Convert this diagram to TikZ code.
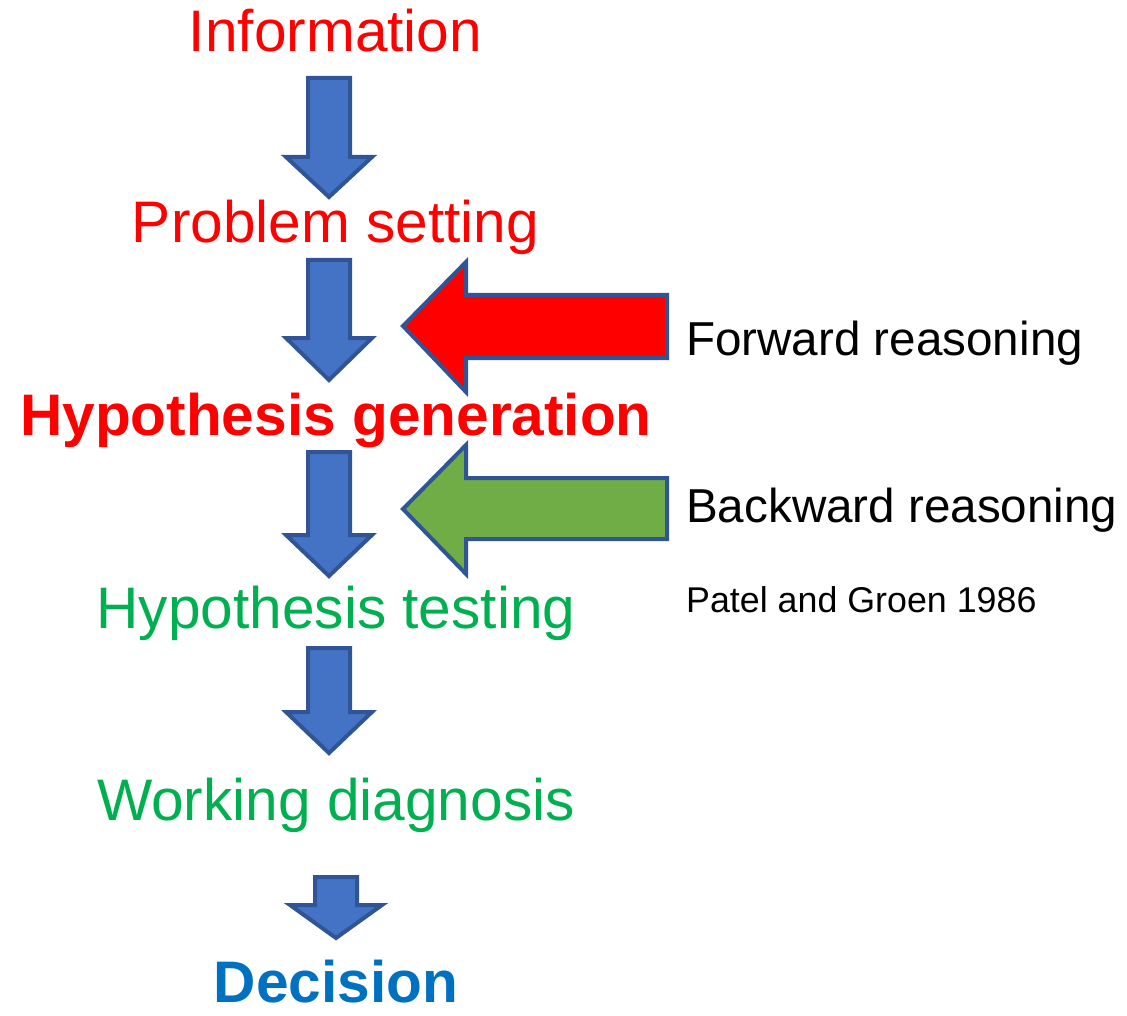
\documentclass[tikz,border=0pt]{standalone}
\usepackage{fontspec}
\setmainfont{Liberation Sans}
\definecolor{tred}{HTML}{FF0000}
\definecolor{tgreen}{HTML}{00B050}
\definecolor{tblue}{HTML}{0070C0}
\definecolor{afill}{HTML}{4472C4}
\definecolor{aline}{HTML}{2F5597}
\definecolor{gfill}{HTML}{70AD47}
\begin{document}
\begin{tikzpicture}[x=1pt,y=-1pt,
  stagetxt/.style={anchor=base,inner sep=0pt,font=\fontsize{58.6}{60}\selectfont},
  sidetxt/.style={anchor=base west,inner sep=0pt,font=\fontsize{47.6}{50}\selectfont},
  reftxt/.style={anchor=base west,inner sep=0pt,font=\fontsize{35.8}{38}\selectfont},
  blockarrow/.style={fill=afill,draw=aline,line width=4pt,line join=miter},
]
\useasboundingbox (0,0) rectangle (1127,1016);

% stage labels
\node[stagetxt,text=tred] (info) at (335.5,52) {Information};
\node[stagetxt,text=tred] (prob) at (335.5,243) {Problem setting};
\node[stagetxt,text=tred,font=\fontsize{58.6}{60}\selectfont\bfseries] (hgen) at (336,435) {Hypothesis generation};
\node[stagetxt,text=tgreen] (htest) at (336,628) {Hypothesis testing};
\node[stagetxt,text=tgreen] (work) at (336,820) {Working diagnosis};
\node[stagetxt,text=tblue,font=\fontsize{58.6}{60}\selectfont\bfseries] (dec) at (336,1002) {Decision};

% side labels
\node[sidetxt] (fwd) at (686,355) {Forward reasoning};
\node[sidetxt] (bwd) at (686,522) {Backward reasoning};
\node[reftxt] (ref) at (686,612) {Patel and Groen 1986};

% down arrows
\foreach \top/\hs/\tip in {78/157/197, 260/338/380, 452/535/576, 648/712/753}{
  \draw[blockarrow] (308,\top) -- (350,\top) -- (350,\hs) -- (372,\hs) -- (329,\tip)
    -- (286,\hs) -- (308,\hs) -- cycle;
}
\draw[blockarrow] (315,877) -- (357,877) -- (357,905) -- (382,905) -- (336,938)
    -- (290,905) -- (315,905) -- cycle;

% forward reasoning arrow (red)
\draw[blockarrow,fill=tred] (667,295) -- (466,295) -- (466,262) -- (403,326)
   -- (466,392) -- (466,358) -- (667,358) -- cycle;

% backward reasoning arrow (green)
\draw[blockarrow,fill=gfill] (667,478) -- (466,478) -- (466,445) -- (403,509)
   -- (466,574) -- (466,539) -- (667,539) -- cycle;
\end{tikzpicture}
\end{document}
